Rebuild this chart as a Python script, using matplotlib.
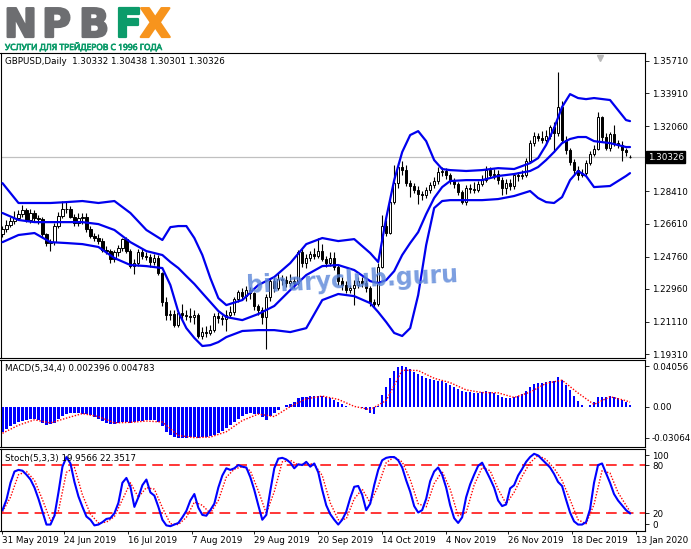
import numpy as np
import matplotlib.pyplot as plt
import matplotlib.patheffects as pe
from matplotlib.transforms import blended_transform_factory

# GBPUSD daily, 31 May 2019 .. 13 Jan 2020
opens = [
    1.2600, 1.2630, 1.2655, 1.2675, 1.2690, 1.2715, 1.2735, 1.2680, 1.2720, 1.2690,
    1.2685, 1.2600, 1.2550, 1.2560, 1.2650, 1.2705, 1.2740, 1.2745, 1.2700, 1.2665,
    1.2690, 1.2695, 1.2630, 1.2590, 1.2580, 1.2565, 1.2515, 1.2505, 1.2460, 1.2500,
    1.2525, 1.2575, 1.2505, 1.2425, 1.2440, 1.2500, 1.2480, 1.2475, 1.2445, 1.2470,
    1.2385, 1.2220, 1.2150, 1.2155, 1.2095, 1.2160, 1.2150, 1.2145, 1.2140, 1.2150,
    1.2030, 1.2055, 1.2050, 1.2065, 1.2145, 1.2130, 1.2125, 1.2150, 1.2165, 1.2240,
    1.2280, 1.2255, 1.2290, 1.2270, 1.2200, 1.2175, 1.2140, 1.2250, 1.2340, 1.2300,
    1.2350, 1.2345, 1.2330, 1.2340, 1.2330, 1.2500, 1.2440, 1.2470, 1.2490, 1.2480,
    1.2510, 1.2465, 1.2440, 1.2470, 1.2420, 1.2340, 1.2320, 1.2290, 1.2300, 1.2320,
    1.2340, 1.2330, 1.2300, 1.2220, 1.2210, 1.2420, 1.2650, 1.2610, 1.2780, 1.2890,
    1.2975, 1.2960, 1.2890, 1.2870, 1.2850, 1.2825, 1.2820, 1.2850, 1.2875, 1.2900,
    1.2950, 1.2955, 1.2930, 1.2900, 1.2880, 1.2840, 1.2780, 1.2860, 1.2855, 1.2850,
    1.2880, 1.2905, 1.2960, 1.2930, 1.2940, 1.2905, 1.2860, 1.2890, 1.2870, 1.2930,
    1.2925, 1.2935, 1.3010, 1.3110, 1.3150, 1.3140, 1.3130, 1.3150, 1.3200, 1.3170,
    1.3315, 1.3128, 1.3072, 1.3005, 1.2960, 1.2935, 1.2945, 1.3000, 1.3050, 1.3080,
    1.3255, 1.3145, 1.3085, 1.3160, 1.3110, 1.3100, 1.3070, 1.30332]
highs = [
    1.2645, 1.2680, 1.2700, 1.2730, 1.2735, 1.2765, 1.2750, 1.2740, 1.2735, 1.2710,
    1.2700, 1.2610, 1.2575, 1.2665, 1.2725, 1.2785, 1.2785, 1.2760, 1.2715, 1.2720,
    1.2720, 1.2720, 1.2650, 1.2610, 1.2600, 1.2580, 1.2535, 1.2520, 1.2515, 1.2540,
    1.2580, 1.2585, 1.2520, 1.2460, 1.2520, 1.2520, 1.2500, 1.2490, 1.2490, 1.2485,
    1.2390, 1.2250, 1.2180, 1.2180, 1.2175, 1.2210, 1.2180, 1.2190, 1.2175, 1.2160,
    1.2080, 1.2090, 1.2095, 1.2160, 1.2165, 1.2150, 1.2175, 1.2200, 1.2250, 1.2290,
    1.2300, 1.2310, 1.2305, 1.2280, 1.2210, 1.2195, 1.2265, 1.2350, 1.2360, 1.2385,
    1.2375, 1.2365, 1.2380, 1.2360, 1.2515, 1.2520, 1.2490, 1.2510, 1.2525, 1.2582,
    1.2545, 1.2480, 1.2500, 1.2500, 1.2430, 1.2360, 1.2340, 1.2320, 1.2345, 1.2360,
    1.2360, 1.2345, 1.2310, 1.2240, 1.2440, 1.2710, 1.2680, 1.2800, 1.2990, 1.3000,
    1.3010, 1.2990, 1.2905, 1.2890, 1.2870, 1.2845, 1.2865, 1.2895, 1.2920, 1.2975,
    1.2975, 1.2970, 1.2945, 1.2915, 1.2895, 1.2850, 1.2875, 1.2880, 1.2895, 1.2900,
    1.2930, 1.2985, 1.2975, 1.2965, 1.2960, 1.2920, 1.2910, 1.2910, 1.2945, 1.2950,
    1.2960, 1.3030, 1.3130, 1.3175, 1.3165, 1.3180, 1.3185, 1.3215, 1.3230, 1.3510,
    1.3345, 1.3150, 1.3085, 1.3020, 1.2985, 1.2965, 1.3015, 1.3065, 1.3100, 1.3285,
    1.3265, 1.3165, 1.3175, 1.3215, 1.3130, 1.3120, 1.3085, 1.30438]
lows = [
    1.2585, 1.2615, 1.2640, 1.2660, 1.2680, 1.2700, 1.2670, 1.2665, 1.2675, 1.2660,
    1.2585, 1.2535, 1.2505, 1.2540, 1.2635, 1.2690, 1.2720, 1.2690, 1.2650, 1.2650,
    1.2660, 1.2615, 1.2580, 1.2565, 1.2545, 1.2500, 1.2490, 1.2440, 1.2445, 1.2480,
    1.2505, 1.2495, 1.2410, 1.2380, 1.2425, 1.2465, 1.2455, 1.2420, 1.2430, 1.2375,
    1.2200, 1.2120, 1.2120, 1.2080, 1.2080, 1.2120, 1.2120, 1.2110, 1.2100, 1.2020,
    1.2015, 1.2025, 1.2035, 1.2055, 1.2105, 1.2095, 1.2060, 1.2130, 1.2150, 1.2220,
    1.2235, 1.2230, 1.2240, 1.2180, 1.2150, 1.2100, 1.1962, 1.2230, 1.2280, 1.2290,
    1.2320, 1.2305, 1.2310, 1.2300, 1.2320, 1.2420, 1.2410, 1.2450, 1.2460, 1.2470,
    1.2450, 1.2420, 1.2425, 1.2400, 1.2320, 1.2290, 1.2270, 1.2270, 1.2205, 1.2300,
    1.2305, 1.2280, 1.2200, 1.2195, 1.2200, 1.2410, 1.2590, 1.2600, 1.2770, 1.2860,
    1.2930, 1.2870, 1.2810, 1.2830, 1.2770, 1.2795, 1.2805, 1.2830, 1.2860, 1.2885,
    1.2925, 1.2910, 1.2880, 1.2860, 1.2820, 1.2770, 1.2765, 1.2830, 1.2830, 1.2840,
    1.2870, 1.2895, 1.2915, 1.2910, 1.2880, 1.2820, 1.2825, 1.2850, 1.2855, 1.2900,
    1.2910, 1.2920, 1.3000, 1.3095, 1.3120, 1.3110, 1.3110, 1.3135, 1.3060, 1.3150,
    1.3110, 1.3050, 1.2990, 1.2940, 1.2905, 1.2920, 1.2935, 1.2990, 1.3040, 1.3070,
    1.3120, 1.3070, 1.3065, 1.3095, 1.3085, 1.3010, 1.3040, 1.30301]
closes = [
    1.2630, 1.2655, 1.2675, 1.2690, 1.2715, 1.2735, 1.2680, 1.2720, 1.2690, 1.2685,
    1.2600, 1.2550, 1.2560, 1.2650, 1.2705, 1.2740, 1.2745, 1.2700, 1.2665, 1.2690,
    1.2695, 1.2630, 1.2590, 1.2580, 1.2565, 1.2515, 1.2505, 1.2460, 1.2500, 1.2525,
    1.2575, 1.2505, 1.2425, 1.2440, 1.2500, 1.2480, 1.2475, 1.2445, 1.2470, 1.2385,
    1.2220, 1.2150, 1.2155, 1.2095, 1.2160, 1.2150, 1.2145, 1.2140, 1.2150, 1.2030,
    1.2055, 1.2050, 1.2065, 1.2145, 1.2130, 1.2125, 1.2150, 1.2165, 1.2240, 1.2280,
    1.2255, 1.2290, 1.2270, 1.2200, 1.2175, 1.2140, 1.2250, 1.2340, 1.2300, 1.2350,
    1.2345, 1.2330, 1.2340, 1.2330, 1.2500, 1.2440, 1.2470, 1.2490, 1.2480, 1.2510,
    1.2465, 1.2440, 1.2470, 1.2420, 1.2340, 1.2320, 1.2290, 1.2300, 1.2320, 1.2340,
    1.2330, 1.2300, 1.2220, 1.2210, 1.2420, 1.2650, 1.2610, 1.2780, 1.2890, 1.2975,
    1.2960, 1.2890, 1.2870, 1.2850, 1.2825, 1.2820, 1.2850, 1.2875, 1.2900, 1.2950,
    1.2955, 1.2930, 1.2900, 1.2880, 1.2840, 1.2780, 1.2860, 1.2855, 1.2850, 1.2880,
    1.2905, 1.2960, 1.2930, 1.2940, 1.2905, 1.2860, 1.2890, 1.2870, 1.2930, 1.2925,
    1.2935, 1.3010, 1.3110, 1.3150, 1.3140, 1.3130, 1.3150, 1.3200, 1.3170, 1.3315,
    1.3128, 1.3072, 1.3005, 1.2960, 1.2935, 1.2945, 1.3000, 1.3050, 1.3080, 1.3255,
    1.3145, 1.3085, 1.3160, 1.3110, 1.3100, 1.3070, 1.3060, 1.30326]

# Bollinger bands (20,2), read at these bars
bb_idx = [0, 4, 8, 12, 16, 20, 24, 28, 32, 36,
          40, 42, 44, 46, 48, 50, 52, 54, 56,
          60, 64, 68, 72, 76, 80, 84, 88, 92,
          94, 96, 98, 100, 102, 104, 106, 108, 110, 112,
          116, 120, 124, 128, 132,
          134, 136, 138, 140, 142, 144, 146, 148,
          152, 156, 157]
bb_upper = [1.2887, 1.2776, 1.2776, 1.2776, 1.2781, 1.2787, 1.2776, 1.2787, 1.2720, 1.2625,
            1.2569, 1.2641, 1.2647, 1.2647, 1.2580, 1.2485, 1.2356, 1.2244, 1.2205,
            1.2233, 1.2317, 1.2362, 1.2440, 1.2546, 1.2580, 1.2563, 1.2574, 1.2496,
            1.2446, 1.2692, 1.2904, 1.3061, 1.3156, 1.3178, 1.3122, 1.3016, 1.2966, 1.2960,
            1.2955, 1.2960, 1.2971, 1.2966, 1.2999,
            1.3027, 1.3100, 1.3195, 1.3313, 1.3385, 1.3363, 1.3357, 1.3363,
            1.3352, 1.3240, 1.3234]
bb_middle = [1.2720, 1.2681, 1.2669, 1.2669, 1.2669, 1.2669, 1.2658, 1.2625, 1.2557, 1.2507,
             1.2485, 1.2446, 1.2412, 1.2367, 1.2323, 1.2272, 1.2222, 1.2172, 1.2138,
             1.2121, 1.2155, 1.2200, 1.2289, 1.2373, 1.2423, 1.2429, 1.2401, 1.2339,
             1.2328, 1.2345, 1.2395, 1.2485, 1.2552, 1.2613, 1.2714, 1.2804, 1.2865, 1.2899,
             1.2904, 1.2904, 1.2927, 1.2938, 1.2955,
             1.2977, 1.3016, 1.3061, 1.3111, 1.3134, 1.3145, 1.3145, 1.3122,
             1.3111, 1.3089, 1.3089]
bb_lower = [1.2557, 1.2597, 1.2608, 1.2557, 1.2552, 1.2546, 1.2530, 1.2468, 1.2429, 1.2423,
            1.2412, 1.2317, 1.2166, 1.2076, 1.2021, 1.1976, 1.1981, 1.1998, 1.2026,
            1.2060, 1.2065, 1.2065, 1.2054, 1.2076, 1.2233, 1.2267, 1.2255, 1.2216,
            1.2166, 1.2110, 1.2049, 1.2032, 1.2076, 1.2261, 1.2541, 1.2748, 1.2787, 1.2792,
            1.2792, 1.2792, 1.2798, 1.2815, 1.2843,
            1.2804, 1.2781, 1.2776, 1.2809, 1.2904, 1.2955, 1.2927, 1.2865,
            1.2871, 1.2927, 1.2943]

# MACD(5,34,4)
macd_main = [
    -0.0243, -0.0215, -0.0187, -0.0168, -0.0148, -0.0135, -0.0129, -0.0122, -0.0122, -0.0132,
    -0.0154, -0.0177, -0.0170, -0.0154, -0.0122, -0.0090, -0.0074, -0.0064, -0.0064, -0.0064,
    -0.0067, -0.0074, -0.0084, -0.0100, -0.0122, -0.0139, -0.0158, -0.0168, -0.0164, -0.0154,
    -0.0148, -0.0151, -0.0154, -0.0148, -0.0139, -0.0135, -0.0132, -0.0132, -0.0132, -0.0145,
    -0.0187, -0.0243, -0.0280, -0.0300, -0.0306, -0.0306, -0.0304, -0.0301, -0.0300, -0.0303,
    -0.0300, -0.0297, -0.0290, -0.0276, -0.0258, -0.0235, -0.0212, -0.0183, -0.0148, -0.0116,
    -0.0090, -0.0074, -0.0064, -0.0067, -0.0074, -0.0100, -0.0125, -0.0090, -0.0064, -0.0030,
    -0.0005, 0.0018, 0.0032, 0.0045, 0.0085, 0.0095, 0.0100, 0.0105, 0.0108, 0.0112,
    0.0105, 0.0095, 0.0088, 0.0072, 0.0045, 0.0025, 0.0008, -0.0004, -0.0005, -0.0004,
    -0.0012, -0.0030, -0.0058, -0.0074, 0.0010, 0.0120, 0.0200, 0.0290, 0.0360, 0.0400,
    0.0406, 0.0395, 0.0375, 0.0350, 0.0325, 0.0305, 0.0288, 0.0275, 0.0266, 0.0262,
    0.0253, 0.0234, 0.0215, 0.0195, 0.0176, 0.0157, 0.0147, 0.0147, 0.0138, 0.0138,
    0.0147, 0.0157, 0.0147, 0.0138, 0.0118, 0.0099, 0.0089, 0.0089, 0.0099, 0.0109,
    0.0128, 0.0157, 0.0195, 0.0224, 0.0234, 0.0234, 0.0244, 0.0253, 0.0253, 0.0292,
    0.0263, 0.0215, 0.0166, 0.0109, 0.0061, 0.0022, 0.0003, 0.0022, 0.0051, 0.0099,
    0.0099, 0.0099, 0.0109, 0.0099, 0.0089, 0.0070, 0.0045, 0.002396]
macd_sig_idx = list(range(0, 157, 4)) + [157]
macd_signal = [
    -0.0260, -0.0180, -0.0127, -0.0158, -0.0110, -0.0065, -0.0095, -0.0157, -0.0152, -0.0139,
    -0.0149, -0.0282, -0.0303, -0.0298, -0.0245, -0.0134, -0.0070, -0.0095, 0.0004, 0.0081,
    0.0108, 0.0075, 0.0006, -0.0026, 0.0064, 0.0364, 0.0361, 0.0284, 0.0241, 0.0169,
    0.0143, 0.0140, 0.0094, 0.0147, 0.0234, 0.0265, 0.0138, 0.0025, 0.0102, 0.0062,
    0.004783]

# Stochastic(5,3,3)
stoch_main = [
    24, 37, 58, 72, 74, 73, 68, 62, 52, 38,
    22, 6, 6, 17, 46, 78, 90, 82, 59, 41,
    28, 16, 12, 5, 6, 9, 13, 14, 20, 33,
    58, 64, 53, 28, 40, 55, 62, 46, 42, 28,
    12, 5, 4, 6, 8, 15, 23, 36, 44, 27,
    18, 17, 24, 32, 52, 67, 76, 74, 76, 80,
    78, 77, 65, 49, 30, 12, 18, 48, 76, 88,
    89, 87, 83, 76, 81, 80, 84, 78, 82, 71,
    49, 30, 19, 12, 6, 12, 22, 39, 53, 54,
    43, 24, 32, 55, 74, 86, 89, 90, 90, 86,
    77, 61, 47, 29, 21, 24, 38, 60, 72, 77,
    68, 52, 30, 14, 8, 15, 40, 56, 68, 79,
    83, 73, 63, 52, 36, 29, 31, 51, 55, 67,
    75, 84, 90, 94, 92, 87, 82, 77, 69, 59,
    54, 37, 21, 10, 6, 6, 9, 25, 58, 80,
    82, 70, 58, 44, 36, 30, 24, 19.9566]
st_idx = list(range(0, 157, 2)) + [157]
stoch_signal = [
    22, 40, 68, 72, 61, 37, 11, 23, 71, 77,
    43, 19, 8, 9, 16, 37, 58, 40, 52, 50,
    27, 7, 6, 15, 34, 30, 20, 36, 65, 75,
    78, 73, 48, 20, 47, 84, 86, 80, 82, 81,
    67, 33, 12, 13, 38, 50, 33, 54, 83, 90,
    84, 62, 32, 28, 57, 72, 50, 17, 21, 55,
    77, 73, 50, 32, 46, 66, 83, 92, 87, 76,
    61, 37, 12, 7, 31, 73, 70, 46, 30, 22.3517]

price_ticks = [1.35710, 1.33910, 1.32060, 1.28410, 1.26610, 1.24760, 1.22960, 1.21110, 1.19310]
date_pos = [0, 15.5, 31.5, 47.5, 63, 79, 95, 111, 126.5, 142.5, 158.5]
date_labels = ["31 May 2019", "24 Jun 2019", "16 Jul 2019", "7 Aug 2019", "29 Aug 2019",
               "20 Sep 2019", "14 Oct 2019", "4 Nov 2019", "26 Nov 2019", "18 Dec 2019",
               "13 Jan 2020"]
last_price = 1.30326

W, H = 691, 549
FS = 6.3
plt.rcParams['font.family'] = ['DejaVu Sans']

fig = plt.figure(figsize=(W / 100, H / 100), dpi=100)
fig.patch.set_facecolor('white')


def rect(x0, y0, x1, y1):
    return [x0 / W, 1 - y1 / H, (x1 - x0) / W, (y1 - y0) / H]


ax = fig.add_axes(rect(0.5, 53, 645, 358))
ax_macd = fig.add_axes(rect(0.5, 360, 645, 447))
ax_st = fig.add_axes(rect(0.5, 449, 645, 531))

for a in (ax, ax_macd, ax_st):
    a.set_xlim(-0.5, 160.75)
    a.yaxis.tick_right()
    a.tick_params(axis='y', direction='out', length=3, width=0.6, labelsize=FS, pad=2)
    for s in a.spines.values():
        s.set_color('black')
        s.set_linewidth(0.8)
    a.set_xticks([])

# ---- main chart: candles + bands
o = np.array(opens)
h = np.array(highs)
l = np.array(lows)
c = np.array(closes)
x = np.arange(len(c))
up = c >= o

ax.axhline(last_price, color='#c0c0c0', lw=0.9, zorder=1)
ax.vlines(x, l, h, color='black', lw=0.8, zorder=2)
ax.bar(x[up], np.maximum(c - o, 0.00008)[up], bottom=o[up], width=0.55,
       color='white', edgecolor='black', lw=0.7, zorder=2.5)
ax.bar(x[~up], (o - c)[~up], bottom=c[~up], width=0.55,
       color='black', edgecolor='black', lw=0.7, zorder=2.5)

for band in (bb_upper, bb_middle, bb_lower):
    ax.plot(bb_idx, band, color='#0000ee', lw=1.6, zorder=3,
            solid_joinstyle='round', solid_capstyle='round')

ax.set_ylim(1.1909, 1.3615)
ax.set_yticks(price_ticks)
ax.set_yticklabels(['%.5f' % p for p in price_ticks])

tr = blended_transform_factory(ax.transAxes, ax.transData)
ax.text(1.004, last_price, '%.5f' % last_price, transform=tr, fontsize=FS,
        color='white', va='center', ha='left',
        bbox=dict(boxstyle='square,pad=0.15', fc='black', ec='black'))

ax.text(5 / 645, 1 - 9 / 305, 'GBPUSD,Daily  1.30332 1.30438 1.30301 1.30326',
        transform=ax.transAxes, fontsize=FS, va='center', ha='left')
ax.plot([600 / 645], [0.985], marker='v', ms=5, color='#b8b8b8',
        transform=ax.transAxes, clip_on=False)

ax.text(87.5, 1.2345, 'binaryclub.guru', fontsize=17, fontweight='bold',
        color='#5a86d8', alpha=0.8, ha='center', va='center', rotation=3,
        rotation_mode='anchor', zorder=10)

# ---- MACD
ax_macd.bar(x, macd_main, width=0.62, color='#0000ff', lw=0)
ax_macd.plot(macd_sig_idx, macd_signal, color='red', lw=1.0, ls=(0, (1, 1.2)))
ax_macd.set_ylim(-0.0396, 0.0465)
ax_macd.set_yticks([0.04056, 0.0, -0.03064])
ax_macd.set_yticklabels(['0.04056', '0.00', '-0.03064'])
ax_macd.text(5 / 645, 1 - 8 / 87, 'MACD(5,34,4) 0.002396 0.004783',
             transform=ax_macd.transAxes, fontsize=FS, va='center', ha='left')

# ---- Stochastic
ax_st.axhline(80, color='red', lw=1.1, dashes=(7, 4))
ax_st.axhline(20, color='red', lw=1.1, dashes=(7, 4))
ax_st.plot(st_idx, stoch_signal, color='red', lw=1.0, ls=(0, (1, 1.2)))
ax_st.plot(x, stoch_main, color='#0000ff', lw=1.5)
ax_st.set_ylim(-2, 100)
ax_st.set_yticks([92.5, 80, 20, 6.5])
ax_st.set_yticklabels(['100', '80', '20', '0'])
ax_st.text(5 / 645, 1 - 9 / 82, 'Stoch(5,3,3) 19.9566 22.3517',
           transform=ax_st.transAxes, fontsize=FS, va='center', ha='left')

ax_st.set_xticks(date_pos)
ax_st.set_xticklabels(date_labels, fontsize=FS, ha='left')
ax_st.tick_params(axis='x', direction='out', length=2, width=0.6, pad=1.5)

# ---- logo
logo_y = 1 - 37 / H
for ch, px, col in [('N', 4, '#6d6e71'), ('P', 42, '#6d6e71'), ('B', 79, '#6d6e71'),
                    ('F', 115, '#0c9b6a'), ('X', 140, '#f7941d')]:
    fig.text(px / W, logo_y, ch, fontsize=28.5, fontweight='bold', color=col,
             va='baseline', ha='left',
             path_effects=[pe.withStroke(linewidth=1.6, foreground=col)])
fig.text(5 / W, 1 - 50 / H, 'УСЛУГИ ДЛЯ ТРЕЙДЕРОВ С 1996 ГОДА', fontsize=6.1,
         fontweight='bold', fontstretch='extra-condensed', color='#0c9b6a',
         va='baseline', ha='left', family=['Noto Sans', 'DejaVu Sans'],
         path_effects=[pe.withStroke(linewidth=0.5, foreground='#0c9b6a')])

plt.savefig('out.png', dpi=100, facecolor='white')
